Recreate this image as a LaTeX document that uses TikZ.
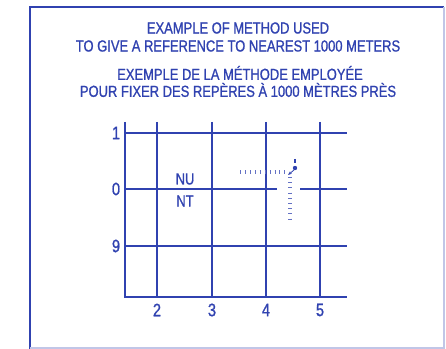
\documentclass[tikz,border=0pt]{standalone}
\usepackage{fontspec}
\setmainfont[FakeStretch=0.81,FakeBold=1]{Liberation Sans}
\usepackage{xcolor}
\usetikzlibrary{arrows.meta}
\definecolor{blueink}{RGB}{48,66,176}

\begin{document}
\begin{tikzpicture}[x=0.75pt,y=-0.75pt,
  every node/.style={text=blueink,font=\fontsize{12}{14}\selectfont,inner sep=0pt},
  digit/.style={font=\fontsize{13.5}{15}\selectfont},
  gridline/.style={draw=blueink,line width=1pt},
  ruler/.style={draw=blueink!75,line width=3pt,dash pattern=on 0.7pt off 3pt}]

\useasboundingbox (0,0) rectangle (446,349);

% frame
\draw[blueink,line width=1pt] (30,349) -- (30,7) -- (444,7);
\draw[blueink!30,line width=0.8pt] (444,7) -- (444,348) -- (30,348);

% title
\node (t1) at (238,28) {EXAMPLE OF METHOD USED};
\node (t2) at (238,46) {TO GIVE A REFERENCE TO NEAREST 1000 METERS};
\node (t3) at (240,73) {EXEMPLE DE LA MÉTHODE EMPLOYÉE};
\node (t4) at (238,90) {POUR FIXER DES REPÈRES À 1000 MÈTRES PRÈS};

% grid
\draw[gridline] (125,122) -- (125,297) -- (347,297);
\foreach \x/\lab in {157/2,212/3,266/4,320/5} {
\draw[gridline] (\x,122) -- (\x,297);
\node[digit] (e\lab) at (\x,310) {\lab};
}
\foreach \y/\lab in {133/1,246/9} {
\draw[gridline] (125,\y) -- (347,\y);
\node[digit] (n\lab) at (116,\y) {\lab};
}
\node[digit] (n0) at (116,189) {0};
\draw[blueink,line width=1.8pt] (125,189) -- (277,189);
\draw[blueink,line width=1.8pt] (300,189) -- (347,189);

\node (nu) at (185,179) {NU};
\node (nt) at (185,201) {NT};

% reference point
\draw[ruler] (240,172) -- (288,172);
\draw[ruler,dash pattern=on 0.7pt off 3.2pt] (290,177) -- (290,223);
\fill[blueink] (295,168) circle (2.2);
\draw[blueink,line width=0.8pt] (295,159) -- (295,163);
\coordinate (pt) at (294,170);
\coordinate (corner) at (288,175);
\draw[blueink,line width=0.6pt,-{Stealth[length=3pt]}] (pt) -- (corner);

\end{tikzpicture}
\end{document}
